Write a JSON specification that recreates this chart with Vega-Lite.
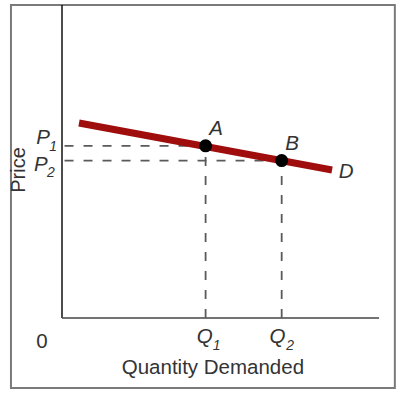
{
  "$schema": "https://vega.github.io/schema/vega-lite/v6.json",
  "width": 317,
  "height": 313,
  "autosize": "none",
  "padding": {"left": 62, "top": 5, "right": 18, "bottom": 75},
  "background": "white",
  "config": {"view": {"stroke": null}},
  "encoding": {
    "x": {"type": "quantitative", "scale": {"domain": [0, 100], "nice": false, "zero": false}, "axis": null},
    "y": {"type": "quantitative", "scale": {"domain": [0, 100], "nice": false, "zero": false}, "axis": null}
  },
  "layer": [
    {
      "data": {"values": [{"x1": -16.1, "x2": 105.0, "y1": -22.4, "y2": 100}]},
      "mark": {"type": "rect", "fill": null, "stroke": "#7a7a7a", "strokeWidth": 2, "clip": false},
      "encoding": {"x": {"field": "x1", "type": "quantitative"}, "x2": {"field": "x2"}, "y": {"field": "y1", "type": "quantitative"}, "y2": {"field": "y2"}}
    },
    {
      "data": {"values": [{"x1": 0, "x2": 0, "y1": 0, "y2": 100}]},
      "mark": {"type": "rule", "stroke": "#111111", "strokeWidth": 1.5},
      "encoding": {"x": {"field": "x1", "type": "quantitative"}, "x2": {"field": "x2"}, "y": {"field": "y1", "type": "quantitative"}, "y2": {"field": "y2"}}
    },
    {
      "data": {"values": [{"x1": 0, "x2": 100, "y1": 0, "y2": 0}]},
      "mark": {"type": "rule", "stroke": "#444444", "strokeWidth": 1.6},
      "encoding": {"x": {"field": "x1", "type": "quantitative"}, "x2": {"field": "x2"}, "y": {"field": "y1", "type": "quantitative"}, "y2": {"field": "y2"}}
    },
    {
      "data": {"values": [
        {"x1": 0.8, "x2": 45.3, "y1": 55.0, "y2": 55.0},
        {"x1": 0.8, "x2": 69.3, "y1": 50.3, "y2": 50.3},
        {"x1": 45.3, "x2": 45.3, "y1": 0, "y2": 55.0},
        {"x1": 69.3, "x2": 69.3, "y1": 0, "y2": 50.3}
      ]},
      "mark": {"type": "rule", "stroke": "#5a5a5a", "strokeWidth": 1.8, "strokeDash": [9, 10]},
      "encoding": {"x": {"field": "x1", "type": "quantitative"}, "x2": {"field": "x2"}, "y": {"field": "y1", "type": "quantitative"}, "y2": {"field": "y2"}}
    },
    {
      "data": {"values": [{"q": 5.36, "p": 62.3}, {"q": 85.2, "p": 47.3}]},
      "mark": {"type": "line", "stroke": "#a00d0d", "strokeWidth": 7, "strokeCap": "butt"},
      "encoding": {"x": {"field": "q", "type": "quantitative"}, "y": {"field": "p", "type": "quantitative"}}
    },
    {
      "data": {"values": [{"q": 45.3, "p": 55.0}, {"q": 69.3, "p": 50.3}]},
      "mark": {"type": "circle", "size": 170, "color": "#000000", "opacity": 1},
      "encoding": {"x": {"field": "q", "type": "quantitative"}, "y": {"field": "p", "type": "quantitative"}}
    },
    {
      "data": {"values": [
        {"x": -6.0, "y": 57.4, "t": "P"},
        {"x": -6.7, "y": 48.9, "t": "P"},
        {"x": 45.0, "y": -6.2, "t": "Q"},
        {"x": 68.0, "y": -6.2, "t": "Q"},
        {"x": 48.6, "y": 60.4, "t": "A"},
        {"x": 72.6, "y": 55.6, "t": "B"},
        {"x": 89.6, "y": 46.6, "t": "D"}
      ]},
      "mark": {"type": "text", "font": "Liberation Sans", "fontSize": 20.5, "fontStyle": "italic", "color": "#333333", "baseline": "middle", "align": "center", "clip": false},
      "encoding": {"x": {"field": "x", "type": "quantitative"}, "y": {"field": "y", "type": "quantitative"}, "text": {"field": "t"}}
    },
    {
      "data": {"values": [
        {"x": -2.8, "y": 54.6, "t": "1"},
        {"x": -3.5, "y": 46.2, "t": "2"},
        {"x": 48.8, "y": -8.9, "t": "1"},
        {"x": 72.0, "y": -8.9, "t": "2"}
      ]},
      "mark": {"type": "text", "font": "Liberation Sans", "fontSize": 14, "fontStyle": "italic", "color": "#333333", "baseline": "middle", "align": "center", "clip": false},
      "encoding": {"x": {"field": "x", "type": "quantitative"}, "y": {"field": "y", "type": "quantitative"}, "text": {"field": "t"}}
    },
    {
      "data": {"values": [
        {"x": -6.3, "y": -7.7, "t": "0"},
        {"x": 47.6, "y": -16.0, "t": "Quantity Demanded"}
      ]},
      "mark": {"type": "text", "font": "Liberation Sans", "fontSize": 20.5, "color": "#333333", "baseline": "middle", "align": "center", "clip": false},
      "encoding": {"x": {"field": "x", "type": "quantitative"}, "y": {"field": "y", "type": "quantitative"}, "text": {"field": "t"}}
    },
    {
      "data": {"values": [{"x": -13.6, "y": 47.3, "t": "Price"}]},
      "mark": {"type": "text", "font": "Liberation Sans", "fontSize": 20, "color": "#333333", "baseline": "middle", "align": "center", "angle": 270, "clip": false},
      "encoding": {"x": {"field": "x", "type": "quantitative"}, "y": {"field": "y", "type": "quantitative"}, "text": {"field": "t"}}
    }
  ]
}
